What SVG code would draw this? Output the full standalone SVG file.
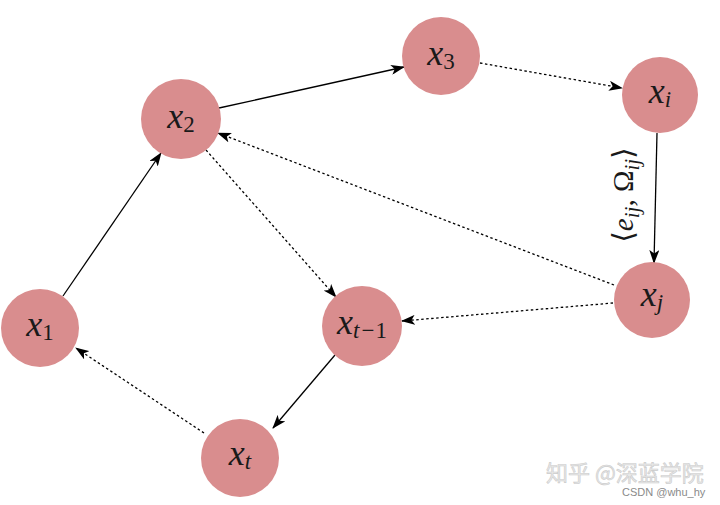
<svg xmlns="http://www.w3.org/2000/svg" width="720" height="505" viewBox="0 0 720 505">
<defs>
<marker id="ah" viewBox="0 0 14 10" refX="13" refY="5" markerWidth="14" markerHeight="10" markerUnits="userSpaceOnUse" orient="auto">
<path d="M0,0 L14,5 L0,10 L3.5,5 Z" fill="#000"/>
</marker>
<style>
.n{fill:#d98d8e}
.t{font-family:"Liberation Serif","DejaVu Serif",serif;font-style:italic;font-size:36px;fill:#1a1a1a}
.s{font-style:normal;font-size:23px}
.si{font-style:italic;font-size:23px}
.l{font-family:"Liberation Serif","DejaVu Serif",serif;font-style:normal;font-size:29px;fill:#1a1a1a}
.e{stroke:#000;stroke-width:1.3;fill:none;marker-end:url(#ah)}
.d{stroke-dasharray:2.5 2.5}
</style>
</defs>
<rect width="720" height="505" fill="#fff"/>
<g id="edges">
<line class="e" x1="63" y1="296" x2="161" y2="153"/>
<line class="e" x1="219" y1="108" x2="404" y2="67"/>
<line class="e d" x1="480" y1="63" x2="622" y2="88"/>
<line class="e" x1="657" y1="133" x2="654" y2="263"/>
<line class="e d" x1="614" y1="285" x2="218" y2="133"/>
<line class="e d" x1="206" y1="150" x2="336" y2="297"/>
<line class="e d" x1="613" y1="303" x2="402" y2="321"/>
<line class="e" x1="335" y1="355" x2="273" y2="428"/>
<line class="e d" x1="204" y1="433" x2="76" y2="348"/>
</g>
<g id="label">
<text transform="translate(633,195) rotate(-90)" text-anchor="middle" class="l"><tspan>⟨</tspan><tspan font-style="italic">e</tspan><tspan font-style="italic" font-size="21" dy="6">ij</tspan><tspan dy="-6">, Ω</tspan><tspan font-style="italic" font-size="21" dy="6">ij</tspan><tspan dy="-6">⟩</tspan></text>
</g>
<g id="x2"><circle class="n" cx="181" cy="119" r="40"/><text class="t" x="181" y="128" text-anchor="middle">x<tspan class="s" dy="4">2</tspan></text></g>
<g id="x3"><circle class="n" cx="441" cy="56" r="39"/><text class="t" x="441" y="65" text-anchor="middle">x<tspan class="s" dy="4">3</tspan></text></g>
<g id="xi"><circle class="n" cx="660" cy="95" r="38"/><text class="t" x="660" y="103" text-anchor="middle">x<tspan class="si" dy="4">i</tspan></text></g>
<g id="xj"><circle class="n" cx="652" cy="300" r="38"/><text class="t" x="652" y="306" text-anchor="middle">x<tspan class="si" dy="4">j</tspan></text></g>
<g id="xt-1"><circle class="n" cx="362" cy="326" r="40"/><text class="t" x="362" y="334" text-anchor="middle">x<tspan class="si" dy="4">t</tspan><tspan class="s" dx="2">−</tspan><tspan class="s" dx="1">1</tspan></text></g>
<g id="x1"><circle class="n" cx="40" cy="328" r="39"/><text class="t" x="40" y="336" text-anchor="middle">x<tspan class="s" dy="4">1</tspan></text></g>
<g id="xt"><circle class="n" cx="240" cy="458" r="39"/><text class="t" x="240" y="465" text-anchor="middle">x<tspan class="si" dy="4">t</tspan></text></g>
<g id="watermark">
<text x="546" y="481" font-family="'Noto Sans CJK SC',sans-serif" font-size="22" fill="#e8e8e8" stroke="#cccccc" stroke-width="0.6">知乎 @深蓝学院</text>
<text x="622" y="496" font-family="'Liberation Sans',sans-serif" font-size="11" fill="#8a8a8a">CSDN @whu_hy</text>
</g>
</svg>
